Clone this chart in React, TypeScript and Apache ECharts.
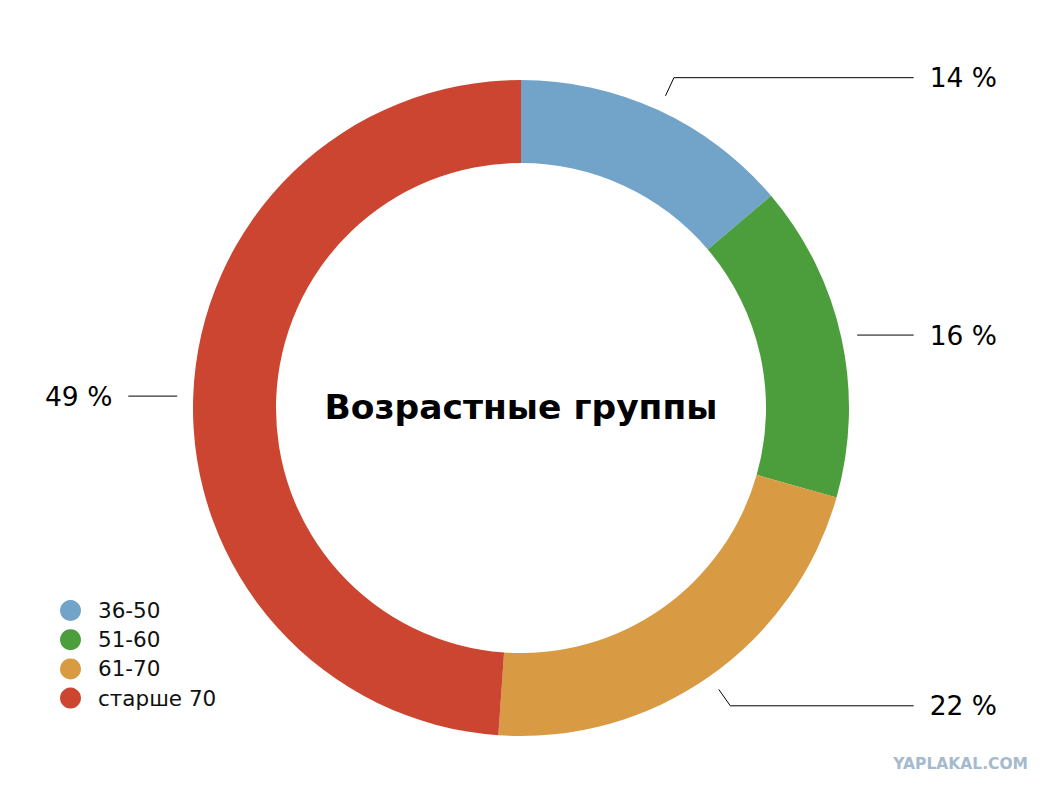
import React, { useEffect, useRef } from "react";
import * as echarts from "echarts";

const categories = ["36-50", "51-60", "61-70", "старше 70"];
const shares = [13.8, 15.6, 21.7, 48.9];
const sliceColors = ["#72a3c9", "#4b9e3b", "#d89a42", "#cb4531"];
const chartTitle = "Возрастные группы";
const watermark = "YAPLAKAL.COM";

const FONT = "'DejaVu Sans', Verdana, sans-serif";

export default function App() {
  const ref = useRef<HTMLDivElement>(null);

  useEffect(() => {
    if (!ref.current) return;
    const chart = echarts.init(ref.current, null, { renderer: "svg" });

    const ringData = categories.map((name, i) => ({
      name,
      value: shares[i],
      itemStyle: { color: sliceColors[i] },
    }));

    // slices whose label sits near the horizontal get a straight leader line
    const total = shares.reduce((a, b) => a + b, 0);
    let acc = 0;
    const labelData = categories.map((name, i) => {
      const mid = ((acc + shares[i] / 2) / total) * 2 * Math.PI;
      acc += shares[i];
      const nearHorizontal = Math.abs(Math.cos(mid)) < 0.3;
      return {
        name,
        value: shares[i],
        labelLine: { length: nearHorizontal ? 0 : 20 },
      };
    });

    chart.setOption({
      animation: false,
      backgroundColor: "#ffffff",
      legend: {
        data: categories,
        orient: "vertical",
        left: 60,
        top: 599.5,
        padding: 0,
        icon: "circle",
        itemWidth: 21,
        itemHeight: 21,
        itemGap: 7.2,
        selectedMode: false,
        textStyle: {
          fontSize: 21.5,
          color: "#111",
          fontFamily: FONT,
          padding: [0, 0, 0, 12],
        },
      },
      graphic: [
        {
          type: "text",
          silent: true,
          x: 521,
          y: 407,
          style: {
            text: chartTitle,
            align: "center",
            verticalAlign: "middle",
            fontSize: 34.5,
            fontWeight: "bold",
            fontFamily: FONT,
            fill: "#000",
          },
        },
        {
          type: "text",
          silent: true,
          x: 1028,
          y: 764,
          style: {
            text: watermark,
            align: "right",
            verticalAlign: "middle",
            fontSize: 15.5,
            fontWeight: "bold",
            fontFamily: FONT,
            fill: "#a5bacc",
          },
        },
      ],
      series: [
        {
          type: "pie",
          left: 0,
          top: 0,
          width: 1042,
          height: 794,
          center: [521, 408],
          radius: [245, 328],
          startAngle: 90,
          clockwise: true,
          silent: true,
          emphasis: { disabled: true },
          itemStyle: { borderWidth: 0 },
          label: { show: false },
          labelLine: { show: false },
          data: ringData,
        },
        {
          type: "pie",
          left: 0,
          top: 0,
          width: 1042,
          height: 794,
          center: [521, 408],
          radius: [343, 344],
          startAngle: 90,
          clockwise: true,
          silent: true,
          emphasis: { disabled: true },
          avoidLabelOverlap: true,
          itemStyle: { color: "rgba(0,0,0,0)", borderWidth: 0 },
          label: {
            show: true,
            position: "outside",
            alignTo: "edge",
            edgeDistance: 45,
            distanceToLabelLine: 16,
            formatter: (p: any) => `${Math.round(p.value)} %`,
            fontSize: 26.5,
            color: "#000",
            fontFamily: FONT,
          },
          labelLine: {
            show: true,
            length: 20,
            length2: 10,
            lineStyle: { color: "#000", width: 1 },
          },
          data: labelData,
        },
      ],
    });

    return () => chart.dispose();
  }, []);

  return (
    <div
      ref={ref}
      style={{ position: "absolute", left: 0, top: 0, width: 1054, height: 794 }}
    />
  );
}
